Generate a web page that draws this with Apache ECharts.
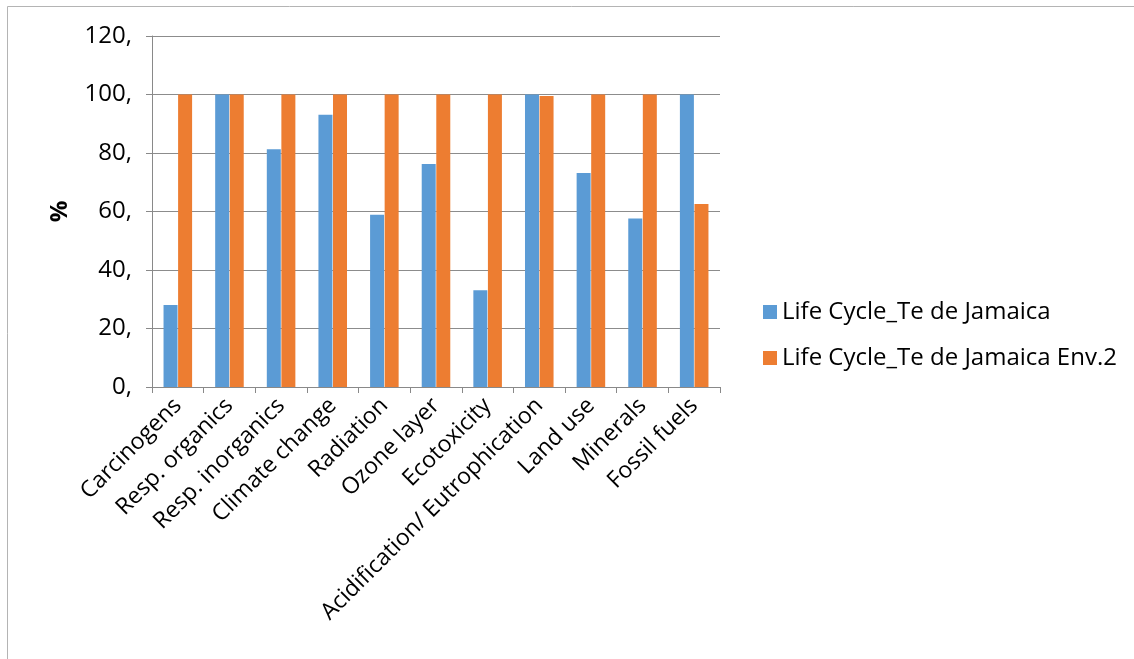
<!DOCTYPE html>
<html style="height: 100%">
<head>
	<meta charset="utf-8">
</head>
<body style="height: 100%; margin: 0; background: #fff">
<div id="container" style="width: 1134px; height: 659px"></div>
<script type="text/javascript" src="https://cdn.jsdelivr.net/npm/echarts@6/dist/echarts.min.js"></script>
<script type="text/javascript">
    var categories = ['Carcinogens', 'Resp. organics', 'Resp. inorganics', 'Climate change', 'Radiation',
        'Ozone layer', 'Ecotoxicity', 'Acidification/ Eutrophication', 'Land use', 'Minerals', 'Fossil fuels'];
    var seriesNames = ['Life Cycle_Te de Jamaica', 'Life Cycle_Te de Jamaica Env.2'];
    var lifeCycle = [28, 100, 81.3, 93.1, 58.9, 76.2, 33.1, 100, 73.2, 57.6, 100];
    var lifeCycleEnv2 = [100, 100, 100, 100, 100, 100, 100, 99.5, 100, 100, 62.6];

    var font = 'Open Sans, Noto Sans, sans-serif';
    var dom = document.getElementById("container");
    var myChart = echarts.init(dom);

    var option = {
        backgroundColor: '#fff',
        animation: false,
        textStyle: {fontFamily: font},
        graphic: [{
            type: 'rect',
            shape: {x: 7.5, y: 6.5, width: 1200, height: 700},
            style: {fill: 'none', stroke: '#b4b4b4', lineWidth: 1},
            silent: true
        }],
        grid: {left: 152, right: 414, top: 36, bottom: 272},
        legend: {
            orient: 'vertical',
            left: 758,
            top: 295,
            itemWidth: 14,
            itemHeight: 14,
            itemGap: 22,
            icon: 'rect',
            textStyle: {fontSize: 24, color: '#000', fontFamily: font},
            data: seriesNames
        },
        xAxis: {
            type: 'category',
            data: categories,
            axisLine: {lineStyle: {color: '#898989', width: 1}},
            axisTick: {show: true, length: 6, lineStyle: {color: '#898989'}},
            axisLabel: {rotate: 45, fontSize: 23, color: '#000', margin: 15, interval: 0, fontFamily: font}
        },
        yAxis: {
            type: 'value',
            min: 0,
            max: 120,
            interval: 20,
            name: '%',
            nameLocation: 'middle',
            nameGap: 80,
            nameTextStyle: {fontSize: 24, fontWeight: 'bold', color: '#000', fontFamily: font},
            axisLine: {show: true, lineStyle: {color: '#898989'}},
            axisTick: {show: true, length: 6, lineStyle: {color: '#898989'}},
            splitLine: {lineStyle: {color: '#8c8c8c', width: 1}},
            axisLabel: {
                fontSize: 24, color: '#000', margin: 20, fontFamily: font,
                formatter: function (v) { return v + ','; }
            }
        },
        series: [{
            name: seriesNames[0],
            type: 'bar',
            data: lifeCycle,
            barWidth: 14,
            barGap: '4%',
            itemStyle: {color: '#5b9bd5'}
        }, {
            name: seriesNames[1],
            type: 'bar',
            data: lifeCycleEnv2,
            barWidth: 14,
            itemStyle: {color: '#ed7d31'}
        }]
    };

    myChart.setOption(option);
</script>
</body>
</html>
